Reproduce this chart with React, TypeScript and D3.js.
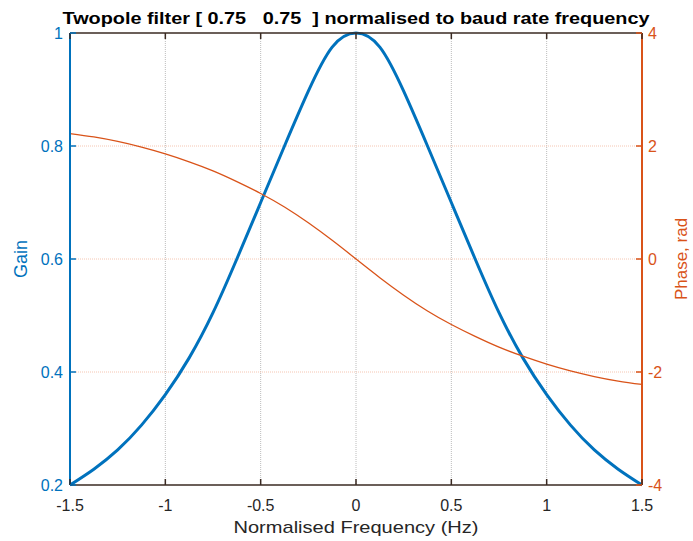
import React from "react";
import * as d3 from "d3";

const freq = [-1.5, -1.375, -1.25, -1.125, -1.0, -0.875, -0.75, -0.625, -0.5, -0.375, -0.25, -0.125, 0, 0.125, 0.25, 0.375, 0.5, 0.625, 0.75, 0.875, 1.0, 1.125, 1.25, 1.375, 1.5];
const gain = [0.2, 0.228, 0.262, 0.306, 0.36, 0.425, 0.505, 0.6, 0.7, 0.8, 0.897, 0.975, 1.0, 0.975, 0.897, 0.8, 0.7, 0.6, 0.505, 0.425, 0.36, 0.306, 0.262, 0.228, 0.2];
const phase = [2.22, 2.16, 2.08, 1.98, 1.86, 1.72, 1.56, 1.37, 1.16, 0.92, 0.64, 0.33, 0, -0.33, -0.64, -0.92, -1.16, -1.37, -1.56, -1.72, -1.86, -1.98, -2.08, -2.16, -2.22];
const xTicks = [-1.5, -1, -0.5, 0, 0.5, 1, 1.5];
const gainTicks = [0.2, 0.4, 0.6, 0.8, 1];
const phaseTicks = [-4, -2, 0, 2, 4];

const title = "Twopole filter [ 0.75   0.75  ] normalised to baud rate frequency";
const xLabel = "Normalised Frequency (Hz)";
const yLabelL = "Gain";
const yLabelR = "Phase, rad";

const W = 693, H = 541;
const L = 70, R = 642, T = 33, B = 485;
const BLUE = "#0072BD";
const ORANGE = "#D95319";
const DARK = "#3a2a22";
const FONT = "'Liberation Sans', Arial, Helvetica, sans-serif";

export default function App() {
  const x = d3.scaleLinear().domain([-1.5, 1.5]).range([L, R]);
  const yL = d3.scaleLinear().domain([0.2, 1]).range([B, T]);
  const yR = d3.scaleLinear().domain([-4, 4]).range([B, T]);

  const gainLine = d3.line<number>().x((_, i) => x(freq[i])).y((d) => yL(d)).curve(d3.curveNatural);
  const phaseLine = d3.line<number>().x((_, i) => x(freq[i])).y((d) => yR(d)).curve(d3.curveNatural);

  const fmt = (v: number) => String(v);

  return (
    <svg width={W} height={H} style={{ position: "absolute", left: 0, top: 0, background: "#fff" }} fontFamily={FONT}>
      <rect x={0} y={0} width={W} height={H} fill="#fff" />
      {/* vertical grid */}
      {xTicks.slice(1, -1).map((t) => (
        <line key={"vg" + t} x1={x(t)} x2={x(t)} y1={T} y2={B} stroke="#bcbcbc" strokeWidth={1} strokeDasharray="1,1" />
      ))}
      {/* horizontal grid (right axis) */}
      {phaseTicks.slice(1, -1).map((t) => (
        <line key={"hg" + t} x1={L} x2={R} y1={yR(t)} y2={yR(t)} stroke="#f5c6b2" strokeWidth={1} strokeDasharray="1,1" />
      ))}

      {/* data */}
      <path d={gainLine(gain) || ""} fill="none" stroke={BLUE} strokeWidth={3} strokeLinejoin="round" />
      <path d={phaseLine(phase) || ""} fill="none" stroke={ORANGE} strokeWidth={1.3} />

      {/* box */}
      <line x1={L} x2={R} y1={T} y2={T} stroke={DARK} strokeWidth={1.5} />
      <line x1={L} x2={R} y1={B} y2={B} stroke={DARK} strokeWidth={1.5} />
      <line x1={L} x2={L} y1={T} y2={B} stroke={BLUE} strokeWidth={2} />
      <line x1={R} x2={R} y1={T} y2={B} stroke={ORANGE} strokeWidth={2} />

      {/* x ticks */}
      {xTicks.map((t) => (
        <g key={"xt" + t}>
          <line x1={x(t)} x2={x(t)} y1={B} y2={B - 6} stroke={DARK} strokeWidth={1.5} />
          <line x1={x(t)} x2={x(t)} y1={T} y2={T + 6} stroke={DARK} strokeWidth={1.5} />
          <text x={x(t)} y={511} textAnchor="middle" fontSize={16} fill="#262626">{fmt(t)}</text>
        </g>
      ))}
      {/* left ticks */}
      {gainTicks.map((t) => (
        <g key={"yl" + t}>
          <line x1={L} x2={L + 6} y1={yL(t)} y2={yL(t)} stroke={BLUE} strokeWidth={1.5} />
          <text x={63} y={yL(t) + 6} textAnchor="end" fontSize={16} fill={BLUE}>{fmt(t)}</text>
        </g>
      ))}
      {/* right ticks */}
      {phaseTicks.map((t) => (
        <g key={"yr" + t}>
          <line x1={R} x2={R - 6} y1={yR(t)} y2={yR(t)} stroke={ORANGE} strokeWidth={1.5} />
          <text x={648} y={yR(t) + 6} textAnchor="start" fontSize={16} fill={ORANGE}>{fmt(t)}</text>
        </g>
      ))}

      {/* labels */}
      <text x={(L + R) / 2} y={24} textAnchor="middle" fontSize={17} fontWeight="bold" fill="#000" style={{ whiteSpace: "pre" }} textLength={587} lengthAdjust="spacingAndGlyphs">{title}</text>
      <text x={(L + R) / 2} y={533} textAnchor="middle" fontSize={17} fill="#262626" textLength={245} lengthAdjust="spacingAndGlyphs">{xLabel}</text>
      <text transform={`translate(27, ${(T + B) / 2}) rotate(-90)`} textAnchor="middle" fontSize={18} fill={BLUE}>{yLabelL}</text>
      <text transform={`translate(687, ${(T + B) / 2}) rotate(-90)`} textAnchor="middle" fontSize={17} fill={ORANGE}>{yLabelR}</text>
    </svg>
  );
}
